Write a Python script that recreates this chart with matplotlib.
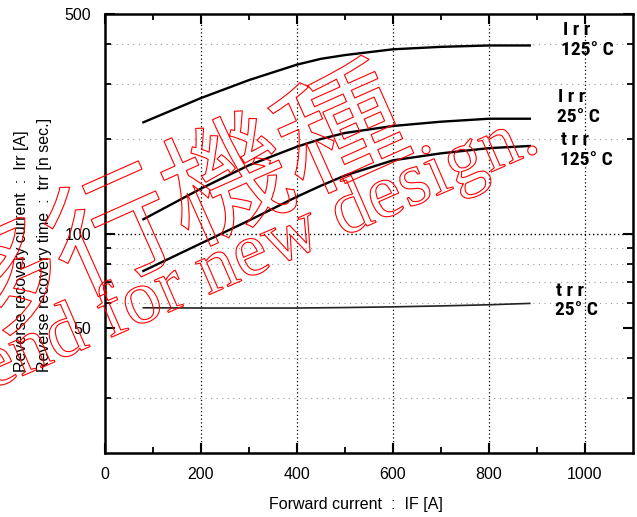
import matplotlib

matplotlib.use("Agg")

import matplotlib.patheffects as pe
from matplotlib import pyplot as plt
from matplotlib.ticker import FixedLocator, NullFormatter

# forward current IF [A]
if_a = [80, 200, 300, 400, 450, 500, 600, 700, 800, 885]

# reverse recovery current / time
irr_125 = [226, 270, 308, 345, 360, 370, 386, 393, 397, 397]
irr_25 = [111, 139, 165, 189, 200, 209, 220, 227, 232, 232]
trr_125 = [76, 93, 110, 131, 142, 153, 171, 180, 187, 190]
trr_25 = [58.0, 57.9, 57.9, 57.9, 58.0, 58.1, 58.4, 58.8, 59.3, 59.9]

x_major = [0, 200, 400, 600, 800, 1000]
x_minor = [100, 300, 500, 700, 900]
y_major = [50, 100, 500]
y_minor = [30, 40, 60, 70, 80, 90, 200, 300, 400]

# curve labels: (first line, second line)
curve_labels = [("I r r", "125° C"), ("I r r", "25° C"), ("t r r", "125° C"), ("t r r", "25° C")]

plt.rcParams["font.family"] = ["Liberation Sans", "DejaVu Sans"]

fig = plt.figure(figsize=(6.37, 5.17), dpi=100)
ax = fig.add_axes([0.1648, 0.1238, 0.8289, 0.8491])

ax.set_yscale("log")
ax.set_xlim(0, 1100)
ax.set_ylim(20, 500)

for yv in y_minor:
    ax.axhline(yv, color="#9a9a9a", linestyle=(0, (1, 4)), linewidth=0.8, zorder=1)
ax.axhline(100, color="black", linestyle=(0, (1, 2)), linewidth=1.0, zorder=1)
for xv in x_major[1:]:
    ax.axvline(xv, color="black", linestyle=(0, (1, 2)), linewidth=0.9, zorder=1)

ax.plot(if_a, irr_125, color="black", linewidth=1.7, zorder=3)
ax.plot(if_a, irr_25, color="black", linewidth=1.7, zorder=3)
ax.plot(if_a, trr_125, color="black", linewidth=1.7, zorder=3)
ax.plot(if_a, trr_25, color="#222222", linewidth=1.2, zorder=3)

ax.xaxis.set_major_locator(FixedLocator(x_major))
ax.xaxis.set_minor_locator(FixedLocator(x_minor))
ax.yaxis.set_major_locator(FixedLocator(y_major))
ax.yaxis.set_minor_locator(FixedLocator(y_minor))
ax.set_yticklabels([str(v) for v in y_major])
ax.yaxis.set_minor_formatter(NullFormatter())
ax.set_xticklabels([str(v) for v in x_major])

ax.tick_params(which="both", direction="in", top=True, right=True, labelsize=11.5, color="black")
ax.tick_params(which="major", length=7, width=1.5, pad=10)
ax.tick_params(which="minor", length=4, width=1.3)
for spine in ax.spines.values():
    spine.set_linewidth(1.8)

fig.text(356 / 637, 1 - 505 / 517, "Forward current  :  IF [A]", ha="center", va="center", fontsize=11.5)
fig.text(22 / 637, 1 - 372 / 517, "Reverse recovery current  :  Irr [A]", rotation=90,
         ha="center", va="bottom", fontsize=11.5)
fig.text(45 / 637, 1 - 372 / 517, "Reverse recovery time  :  trr [n sec.]", rotation=90,
         ha="center", va="bottom", fontsize=11.5)

label_pos = [((563, 30), (561, 50)), ((558, 97), (557, 117)), ((561, 140), (560, 160)), ((556, 291), (555, 310))]
lab_font = dict(family=["Roboto Condensed", "Liberation Sans"], fontweight="bold", fontsize=14)
for (l1, l2), (p1, p2) in zip(curve_labels, label_pos):
    fig.text(p1[0] / 637, 1 - p1[1] / 517, l1, ha="left", va="center", **lab_font)
    fig.text(p2[0] / 637, 1 - p2[1] / 517, l2, ha="left", va="center", **lab_font)

# red outlined watermark
outline = [pe.Stroke(linewidth=0.8, foreground="red")]
fig.text(172 / 637, 1 - 214 / 517, "移行機種", rotation=24, rotation_mode="anchor",
         ha="center", va="center", fontsize=90, color="none",
         family=["Noto Sans CJK JP", "DejaVu Sans"], path_effects=outline, zorder=10)
fig.text(542 / 637, 1 - 150 / 517, "Not recommend for new design.", rotation=23.5,
         rotation_mode="anchor", ha="right", va="baseline", fontsize=55, color="none",
         family=["Liberation Serif", "DejaVu Serif"], path_effects=outline, zorder=10)

fig.savefig("out.png", dpi=100)
